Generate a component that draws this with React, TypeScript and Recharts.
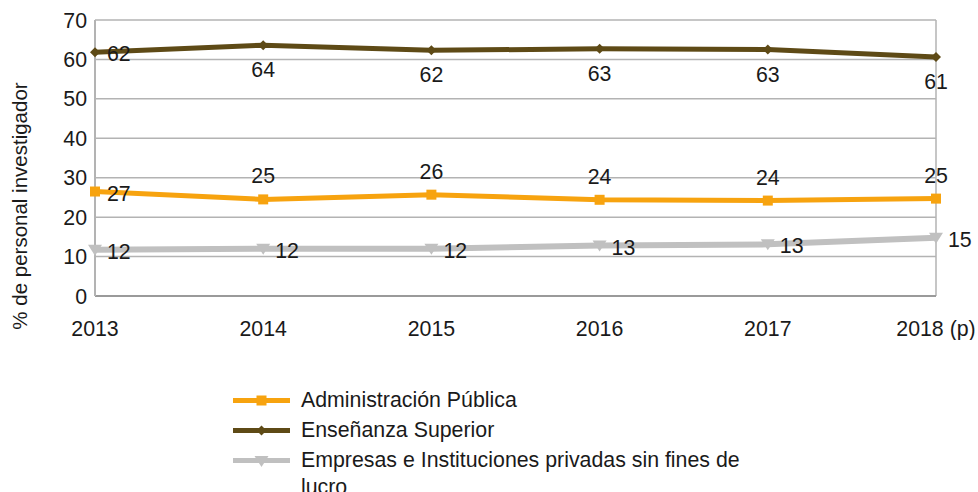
import React from "react";
import { LineChart, Line, XAxis, YAxis, CartesianGrid, ReferenceLine, LabelList } from "recharts";

// Share of research staff by sector (%).
const YEARS = ["2013", "2014", "2015", "2016", "2017", "2018 (p)"];
const ADMIN = [26.5, 24.5, 25.7, 24.4, 24.2, 24.7];
const ENSENANZA = [61.8, 63.6, 62.3, 62.7, 62.5, 60.6];
const EMPRESAS = [11.7, 12.0, 12.0, 12.8, 13.1, 14.8];
const Y_TICKS = [0, 10, 20, 30, 40, 50, 60, 70];

const FONT = "'Liberation Sans', Arial, sans-serif";
const FS = 21.33;
const COLORS = {
  admin: "#f7a30f",
  ens: "#5e4a16",
  emp: "#c0c0c0",
  grid: "#b3b3b3",
  axis: "#9a9a9a",
  text: "#1a1a1a",
};

const data = YEARS.map((year, i) => ({
  year,
  admin: ADMIN[i],
  ens: ENSENANZA[i],
  emp: EMPRESAS[i],
}));

type Place = "right" | "above" | "below";

function makeLabel(place: (i: number) => Place) {
  return (props: any) => {
    const { x, y, value, index } = props;
    const p = place(index);
    const tx = p === "right" ? x + 12 : x;
    const ty = p === "right" ? y + 2 : p === "above" ? y - 23 : y + 25;
    return (
      <text
        x={tx}
        y={ty}
        textAnchor={p === "right" ? "start" : "middle"}
        dominantBaseline="central"
        fontFamily={FONT}
        fontSize={FS}
        fill={COLORS.text}
      >
        {Math.round(Number(value))}
      </text>
    );
  };
}

const SquareDot = (props: any) => {
  const { cx, cy } = props;
  return <rect x={cx - 5} y={cy - 5} width={10} height={10} fill={COLORS.admin} />;
};
const DiamondDot = (props: any) => {
  const { cx, cy } = props;
  return <path d={`M${cx},${cy - 5}L${cx + 5},${cy}L${cx},${cy + 5}L${cx - 5},${cy}Z`} fill={COLORS.ens} />;
};
const TriangleDot = (props: any) => {
  const { cx, cy } = props;
  return <path d={`M${cx - 7},${cy - 5}L${cx + 7},${cy - 5}L${cx},${cy + 6}Z`} fill={COLORS.emp} />;
};

const LEGEND = [
  { name: "Administración Pública", color: COLORS.admin, marker: "square" },
  { name: "Enseñanza Superior", color: COLORS.ens, marker: "diamond" },
  { name: "Empresas e Instituciones privadas sin fines de lucro", color: COLORS.emp, marker: "triangle" },
];

function LegendIcon({ color, marker }: { color: string; marker: string }) {
  return (
    <svg width={57} height={27} style={{ flex: "none" }}>
      <line x1={0} y1={13.5} x2={57} y2={13.5} stroke={color} strokeWidth={5} />
      {marker === "square" && <rect x={23.5} y={8.5} width={10} height={10} fill={color} />}
      {marker === "diamond" && <path d="M28.5,8.5L33.5,13.5L28.5,18.5L23.5,13.5Z" fill={color} />}
      {marker === "triangle" && <path d="M21.5,9L35.5,9L28.5,20Z" fill={color} />}
    </svg>
  );
}

export default function App() {
  return (
    <div style={{ position: "absolute", left: 0, top: 0, width: 978, height: 492, background: "#fff", fontFamily: FONT, overflow: "hidden" }}>
      <LineChart width={978} height={340} data={data} margin={{ top: 20, right: 42, left: 0, bottom: 0 }}>
        <CartesianGrid vertical={false} stroke={COLORS.grid} strokeWidth={1.5} />
        <XAxis
          dataKey="year"
          tick={{ fontSize: FS, fill: COLORS.text, fontFamily: FONT }}
          tickLine={false}
          tickSize={0}
          tickMargin={25}
          axisLine={{ stroke: COLORS.axis, strokeWidth: 2 }}
          height={44}
          interval={0}
        />
        <YAxis
          domain={[0, 70]}
          ticks={Y_TICKS}
          tick={{ fontSize: FS, fill: COLORS.text, fontFamily: FONT }}
          tickLine={false}
          axisLine={{ stroke: COLORS.grid, strokeWidth: 2 }}
          width={95}
          label={{
            content: () => (
              <text
                x={19}
                y={206}
                transform="rotate(-90 19 206)"
                textAnchor="middle"
                dominantBaseline="central"
                fontFamily={FONT}
                fontSize={20.5}
                fill={COLORS.text}
              >
                % de personal investigador
              </text>
            ),
          }}
        />
        <ReferenceLine x={YEARS[YEARS.length - 1]} stroke={COLORS.grid} strokeWidth={1.5} />
        <Line
          dataKey="admin"
          name="Administración Pública"
          stroke={COLORS.admin}
          strokeWidth={5}
          dot={<SquareDot />}
          activeDot={false}
          isAnimationActive={false}
        >
          <LabelList dataKey="admin" content={makeLabel((i) => (i === 0 ? "right" : "above"))} />
        </Line>
        <Line
          dataKey="ens"
          name="Enseñanza Superior"
          stroke={COLORS.ens}
          strokeWidth={5}
          dot={<DiamondDot />}
          activeDot={false}
          isAnimationActive={false}
        >
          <LabelList dataKey="ens" content={makeLabel((i) => (i === 0 ? "right" : "below"))} />
        </Line>
        <Line
          dataKey="emp"
          name="Empresas e Instituciones privadas sin fines de lucro"
          stroke={COLORS.emp}
          strokeWidth={6}
          dot={<TriangleDot />}
          activeDot={false}
          isAnimationActive={false}
        >
          <LabelList dataKey="emp" content={makeLabel(() => "right")} />
        </Line>
      </LineChart>
      <div style={{ position: "absolute", left: 233, top: 386.5, width: 560 }}>
        {LEGEND.map((item) => (
          <div key={item.name} style={{ display: "flex", alignItems: "flex-start", marginBottom: 3 }}>
            <LegendIcon color={item.color} marker={item.marker} />
            <div style={{ marginLeft: 11, width: 475, fontSize: FS, lineHeight: "27px", color: COLORS.text }}>
              {item.name}
            </div>
          </div>
        ))}
      </div>
    </div>
  );
}
